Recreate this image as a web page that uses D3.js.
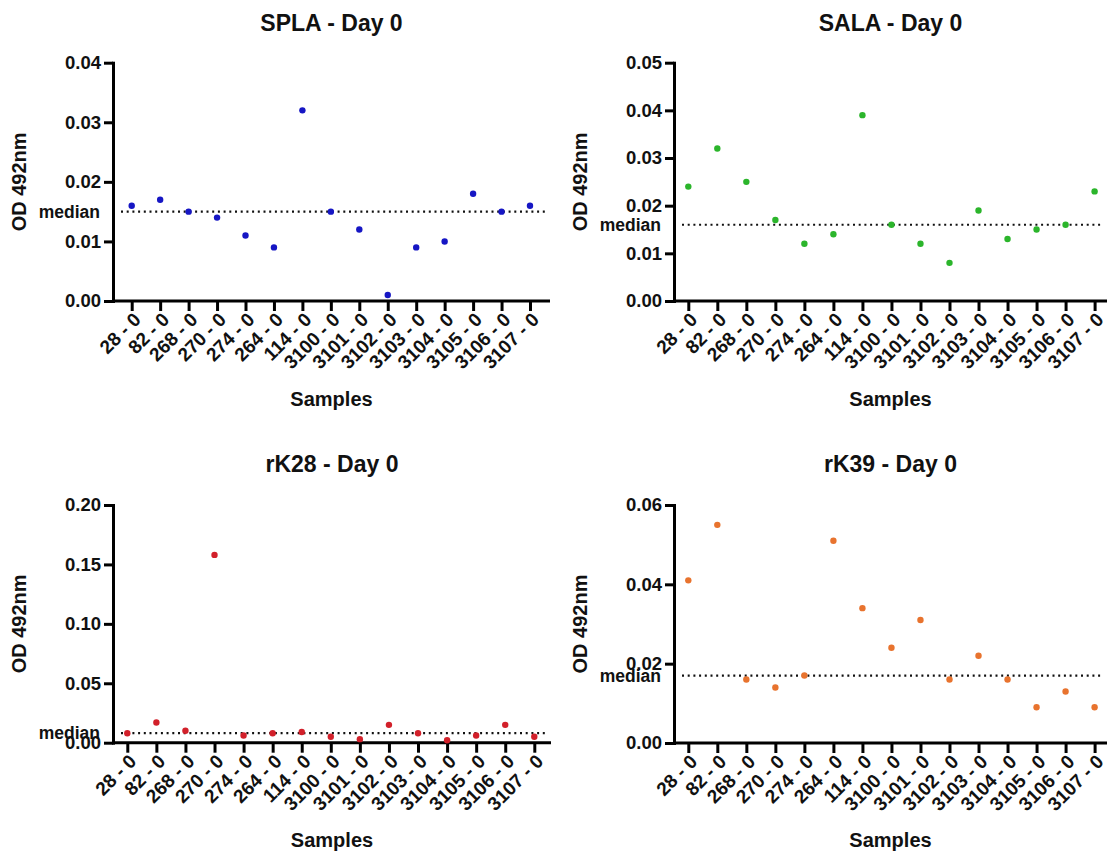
<!DOCTYPE html>
<html>
<head>
<meta charset="utf-8">
<script src="https://cdn.jsdelivr.net/npm/d3@7"></script>
<style>
  html, body { margin: 0; padding: 0; background: #fff; }
  svg { display: block; font-family: "Liberation Sans", Arial, Helvetica, sans-serif; font-weight: bold; }
</style>
</head>
<body>
<svg id="chart" width="1108" height="855"></svg>
<script>
// ---------- data ----------
const categories = ["28 - 0", "82 - 0", "268 - 0", "270 - 0", "274 - 0", "264 - 0", "114 - 0",
  "3100 - 0", "3101 - 0", "3102 - 0", "3103 - 0", "3104 - 0", "3105 - 0", "3106 - 0", "3107 - 0"];

const splaValues = [0.016, 0.017, 0.015, 0.014, 0.011, 0.009, 0.032, 0.015, 0.012, 0.001, 0.009, 0.010, 0.018, 0.015, 0.016];
const salaValues = [0.024, 0.032, 0.025, 0.017, 0.012, 0.014, 0.039, 0.016, 0.012, 0.008, 0.019, 0.013, 0.015, 0.016, 0.023];
const rk28Values = [0.008, 0.017, 0.010, 0.158, 0.006, 0.008, 0.009, 0.005, 0.003, 0.015, 0.008, 0.002, 0.006, 0.015, 0.005];
const rk39Values = [0.041, 0.055, 0.016, 0.014, 0.017, 0.051, 0.034, 0.024, 0.031, 0.016, 0.022, 0.016, 0.009, 0.013, 0.009];

const splaTicks = [0, 0.01, 0.02, 0.03, 0.04];
const salaTicks = [0, 0.01, 0.02, 0.03, 0.04, 0.05];
const rk28Ticks = [0, 0.05, 0.10, 0.15, 0.20];
const rk39Ticks = [0, 0.02, 0.04, 0.06];

const titles = ["SPLA - Day 0", "SALA - Day 0", "rK28 - Day 0", "rK39 - Day 0"];
const yAxisTitle = "OD 492nm";
const xAxisTitle = "Samples";
const medianLabel = "median";

// ---------- layout ----------
const panels = [
  { title: titles[0], values: splaValues, ticks: splaTicks, color: "#1616c4",
    ax: 113, axEnd: 550, x0: 131.7, x1: 530, yTop: 62.7, yBot: 301, titleY: 31, samplesY: 406 },
  { title: titles[1], values: salaValues, ticks: salaTicks, color: "#2bb52b",
    ax: 674, axEnd: 1107, x0: 688.3, x1: 1094.6, yTop: 62.7, yBot: 301, titleY: 31, samplesY: 406 },
  { title: titles[2], values: rk28Values, ticks: rk28Ticks, color: "#d2202a",
    ax: 113, axEnd: 551, x0: 127.3, x1: 534.3, yTop: 505, yBot: 742.7, titleY: 472, samplesY: 847 },
  { title: titles[3], values: rk39Values, ticks: rk39Ticks, color: "#e8732e",
    ax: 674, axEnd: 1107, x0: 688.3, x1: 1094.6, yTop: 505, yBot: 743, titleY: 472, samplesY: 847 }
];

const svg = d3.select("#chart");
const FONT = "Liberation Sans, Arial, sans-serif";

panels.forEach(p => {
  const g = svg.append("g");
  const x = d3.scalePoint().domain(categories).range([p.x0, p.x1]);
  const y = d3.scaleLinear().domain([0, d3.max(p.ticks)]).range([p.yBot, p.yTop]);
  const fmt = d3.format(".2f");

  // Title
  g.append("text")
    .attr("x", (p.ax + p.axEnd) / 2)
    .attr("y", p.titleY)
    .attr("text-anchor", "middle")
    .attr("font-size", 23)
    .attr("fill", "#111")
    .text(p.title);

  // Y axis
  const yAxis = d3.axisLeft(y).tickValues(p.ticks).tickFormat(fmt).tickSize(9).tickSizeOuter(0).tickPadding(3);
  const yg = g.append("g").attr("transform", `translate(${p.ax},0)`).call(yAxis);
  yg.select(".domain").attr("stroke", "#000").attr("stroke-width", 3).attr("stroke-linecap", "square");
  yg.selectAll(".tick line").attr("stroke", "#000").attr("stroke-width", 3);
  yg.selectAll(".tick text").attr("font-size", 18.5).attr("font-family", FONT)
    .attr("font-weight", "bold").attr("fill", "#111");

  // X axis
  const xAxis = d3.axisBottom(x).tickSize(10).tickSizeOuter(0).tickPadding(0);
  const xg = g.append("g").attr("transform", `translate(0,${p.yBot})`).call(xAxis);
  xg.select(".domain").remove();
  xg.selectAll(".tick line").attr("stroke", "#000").attr("stroke-width", 3);
  xg.selectAll(".tick text")
    .attr("font-size", 19).attr("font-family", FONT)
    .attr("font-weight", "bold").attr("fill", "#111")
    .attr("text-anchor", "end")
    .attr("transform", "translate(5,15) rotate(-45)")
    .attr("dy", "0.35em")
    .attr("y", 0);
  g.append("line")
    .attr("x1", p.ax).attr("x2", p.axEnd)
    .attr("y1", p.yBot).attr("y2", p.yBot)
    .attr("stroke", "#000").attr("stroke-width", 3);

  // Y axis title
  g.append("text")
    .attr("transform", `translate(${p.ax - 87},${(p.yTop + p.yBot) / 2}) rotate(-90)`)
    .attr("text-anchor", "middle")
    .attr("font-size", 20)
    .attr("fill", "#111")
    .text(yAxisTitle);

  // X axis title
  g.append("text")
    .attr("x", (p.ax + p.axEnd) / 2)
    .attr("y", p.samplesY)
    .attr("text-anchor", "middle")
    .attr("font-size", 20)
    .attr("fill", "#111")
    .text(xAxisTitle);

  // Median line
  const med = d3.median(p.values);
  g.append("line")
    .attr("x1", p.ax + 8).attr("x2", p.axEnd - 5)
    .attr("y1", y(med)).attr("y2", y(med))
    .attr("stroke", "#111").attr("stroke-width", 2.2)
    .attr("stroke-dasharray", "2,3.7");
  g.append("text")
    .attr("x", p.ax - 13)
    .attr("y", y(med))
    .attr("dy", "0.35em")
    .attr("text-anchor", "end")
    .attr("font-size", 17.5)
    .attr("fill", "#111")
    .text(medianLabel);

  // Points
  g.selectAll("circle.pt")
    .data(p.values)
    .join("circle")
    .attr("class", "pt")
    .attr("cx", (d, i) => x(categories[i]))
    .attr("cy", d => y(d))
    .attr("r", 3.2)
    .attr("fill", p.color);
});
</script>
</body>
</html>
